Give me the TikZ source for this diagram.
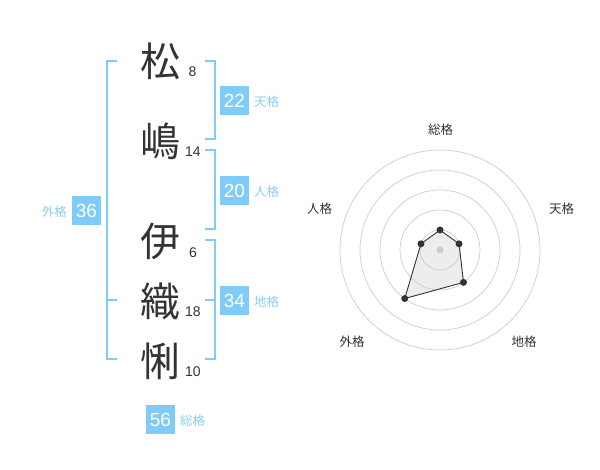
\documentclass[tikz,border=0pt]{standalone}
\usepackage{fontspec}
\setmainfont{Liberation Sans}
\newfontfamily\jp{Noto Sans CJK JP}
\usetikzlibrary{calc}
\definecolor{kblue}{HTML}{80CCF9}
\definecolor{klabel}{HTML}{8ACDF5}
\definecolor{ktext}{HTML}{333333}
\definecolor{kring}{HTML}{CCCCCC}
\begin{document}
\begin{tikzpicture}[x=1pt,y=-1pt,
  bigchar/.style={font=\jp\fontsize{40}{40}\selectfont, text=ktext, inner sep=0pt},
  strokes/.style={font=\fontsize{14}{14}\selectfont, text=ktext, inner sep=0pt},
  valbox/.style={fill=kblue, text=white, font=\fontsize{19}{19}\selectfont, minimum width=29pt, minimum height=29pt, inner sep=0pt},
  kaku/.style={font=\jp\fontsize{12.5}{12.5}\selectfont, text=klabel, inner sep=0pt},
  bracket/.style={draw=kblue, line width=1.8pt},
  radarlabel/.style={font=\jp\fontsize{12.5}{12.5}\selectfont, text=ktext, inner sep=0pt},
  ring/.style={draw=kring, line width=0.7pt},
  vdot/.style={circle, fill=ktext, minimum size=7pt, inner sep=0pt}
]
\useasboundingbox (0,0) rectangle (600,470);

% characters
\node[bigchar] (c1) at (160,61) {松};
\node[bigchar] (c2) at (160,141) {嶋};
\node[bigchar] (c3) at (160,241) {伊};
\node[bigchar] (c4) at (160,301) {織};
\node[bigchar] (c5) at (160,361) {悧};
\node[strokes] (s1) at (192.5,72) {8};
\node[strokes] (s2) at (193,152) {14};
\node[strokes] (s3) at (193,253) {6};
\node[strokes] (s4) at (193,312) {18};
\node[strokes] (s5) at (193,372) {10};

% bracket coordinates
\coordinate (L1) at (117,61);  \coordinate (L1v) at (107,61);
\coordinate (L2) at (117,359); \coordinate (L2v) at (107,359);
\coordinate (Lm) at (117,300); \coordinate (Lmv) at (107,300);
\draw[bracket] (L1) -- (L1v) -- (L2v) -- (L2);
\draw[bracket] (Lmv) -- (Lm);

\coordinate (A1) at (205,61);  \coordinate (A1v) at (215,61);
\coordinate (A2) at (205,139); \coordinate (A2v) at (215,139);
\draw[bracket] (A1) -- (A1v) -- (A2v) -- (A2);
\coordinate (B1) at (205,150); \coordinate (B1v) at (215,150);
\coordinate (B2) at (205,229); \coordinate (B2v) at (215,229);
\draw[bracket] (B1) -- (B1v) -- (B2v) -- (B2);
\coordinate (C1) at (205,240); \coordinate (C1v) at (215,240);
\coordinate (C2) at (205,359); \coordinate (C2v) at (215,359);
\coordinate (Cm) at (205,300); \coordinate (Cmv) at (215,300);
\draw[bracket] (C1) -- (C1v) -- (C2v) -- (C2);
\draw[bracket] (Cm) -- (Cmv);

% value boxes
\node[valbox] (ten) at (234.5,100.5) {22};
\node[kaku, anchor=west] (tenl) at (254,101.5) {天格};
\node[valbox] (jin) at (234.5,190.5) {20};
\node[kaku, anchor=west] (jinl) at (254,191.5) {人格};
\node[valbox] (chi) at (234.5,300.5) {34};
\node[kaku, anchor=west] (chil) at (254,301.5) {地格};
\node[valbox] (gai) at (86.5,210.5) {36};
\node[kaku, anchor=east] (gail) at (67,211.5) {外格};
\node[valbox] (sou) at (160.5,419.5) {56};
\node[kaku, anchor=west] (soul) at (180,420.5) {総格};

% radar
\coordinate (ctr) at (440,250);
\coordinate (pS) at ($(ctr)+(-90:20)$);
\coordinate (pT) at ($(ctr)+(-18:20)$);
\coordinate (pC) at ($(ctr)+(54:40)$);
\coordinate (pG) at ($(ctr)+(126:60)$);
\coordinate (pJ) at ($(ctr)+(198:20)$);
\fill[black!7] (pS) -- (pT) -- (pC) -- (pG) -- (pJ) -- cycle;
\foreach \r in {20,40,60,80,100} \draw[ring] (ctr) circle[radius=\r];
\fill[kring] (ctr) circle[radius=3.5];
\draw[ktext, line width=0.9pt] (pS) -- (pT) -- (pC) -- (pG) -- (pJ) -- cycle;
\foreach \p in {pS,pT,pC,pG,pJ} \node[vdot] at (\p) {};

\node[radarlabel] (rS) at (440.5,130) {総格};
\node[radarlabel] (rT) at (561.5,208.5) {天格};
\node[radarlabel] (rC) at (524,342) {地格};
\node[radarlabel] (rG) at (352,342) {外格};
\node[radarlabel] (rJ) at (319.5,208.5) {人格};
\end{tikzpicture}
\end{document}
